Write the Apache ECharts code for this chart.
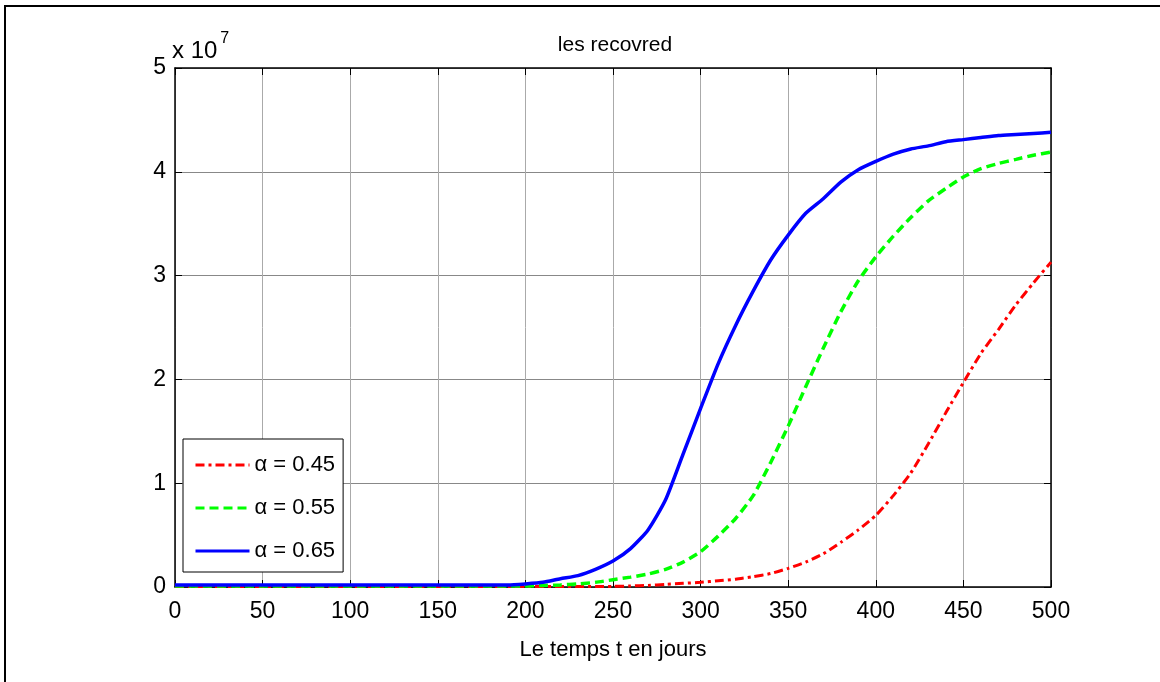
<!DOCTYPE html>
<html>
<head>
<meta charset="utf-8">
<script src="https://cdn.jsdelivr.net/npm/echarts@6/dist/echarts.min.js"></script>
<style>
  html, body { margin: 0; padding: 0; background: #fff; }
  #chart { width: 1160px; height: 682px; }
</style>
</head>
<body>
<div id="chart"></div>
<script>
// jours
const days = [0, 50, 100, 150, 190, 200, 210, 220, 230, 240, 250, 260, 270, 280, 290, 300,
  310, 320, 330, 340, 350, 360, 370, 380, 390, 400, 410, 420, 430, 440, 450, 460, 470, 480, 490, 500];

// valeurs en unites de 10^7
const alpha045 = [0.005, 0.005, 0.005, 0.005, 0.005, 0.005, 0.005, 0.005, 0.005, 0.005, 0.006, 0.01, 0.015, 0.025, 0.035, 0.045,
  0.06, 0.075, 0.1, 0.13, 0.18, 0.24, 0.32, 0.43, 0.55, 0.69, 0.88, 1.1, 1.38, 1.68, 1.97, 2.25, 2.48, 2.72, 2.93, 3.13];
const alpha055 = [0.01, 0.01, 0.01, 0.01, 0.01, 0.01, 0.015, 0.02, 0.03, 0.045, 0.07, 0.095, 0.125, 0.17, 0.24, 0.34,
  0.49, 0.66, 0.88, 1.2, 1.55, 1.93, 2.3, 2.65, 2.95, 3.18, 3.38, 3.56, 3.72, 3.84, 3.95, 4.03, 4.08, 4.12, 4.16, 4.19];
const alpha065 = [0.02, 0.02, 0.02, 0.02, 0.02, 0.03, 0.045, 0.08, 0.11, 0.17, 0.25, 0.37, 0.55, 0.84, 1.28, 1.72,
  2.15, 2.52, 2.85, 3.15, 3.39, 3.6, 3.74, 3.9, 4.02, 4.1, 4.17, 4.22, 4.25, 4.29, 4.31, 4.33, 4.35, 4.36, 4.37, 4.38];

const seriesNames = ['α = 0.45', 'α = 0.55', 'α = 0.65'];

const font = '"Liberation Sans", Arial, sans-serif';

function pairs(vals) {
  return days.map((d, i) => [d, vals[i]]);
}

const chart = echarts.init(document.getElementById('chart'));

const option = {
  backgroundColor: '#fff',
  animation: false,
  title: {
    text: 'les recovred',
    left: 610,
    top: 30,
    textAlign: 'center',
    textStyle: { fontFamily: font, fontSize: 21, fontWeight: 'normal', color: '#000' }
  },
  legend: {
    orient: 'vertical',
    left: 183,
    top: 439,
    padding: [15, 8, 10, 11],
    itemGap: 21,
    itemWidth: 54,
    itemHeight: 23,
    backgroundColor: '#fff',
    borderColor: '#000',
    borderWidth: 1,
    itemStyle: { opacity: 0 },
    lineStyle: { width: 3 },
    textStyle: { fontFamily: font, fontSize: 22, color: '#000' },
    data: seriesNames
  },
  grid: { left: 175, right: 109, top: 68, bottom: 95, show: false },
  xAxis: [{
    type: 'value',
    min: 0, max: 500, interval: 50,
    name: 'Le temps t en jours',
    nameLocation: 'middle',
    nameGap: 52,
    nameTextStyle: { fontFamily: font, fontSize: 22, color: '#000' },
    axisLine: { lineStyle: { color: '#000', width: 1.5 } },
    axisTick: { inside: true, length: 7, lineStyle: { color: '#000' } },
    axisLabel: { fontFamily: font, fontSize: 23, color: '#000', margin: 13 },
    splitLine: { show: true, lineStyle: { color: '#aaa', width: 1 } }
  }, {
    type: 'value',
    position: 'top',
    min: 0, max: 500, interval: 50,
    axisLine: { show: true, onZero: false, lineStyle: { color: '#000', width: 1.5 } },
    axisTick: { inside: true, length: 7, lineStyle: { color: '#000' } },
    axisLabel: { show: false },
    splitLine: { show: false }
  }],
  yAxis: [{
    type: 'value',
    min: 0, max: 5, interval: 1,
    axisLine: { show: true, lineStyle: { color: '#000', width: 1.5 } },
    axisTick: { show: true, inside: true, length: 7, lineStyle: { color: '#000' } },
    axisLabel: { fontFamily: font, fontSize: 23, color: '#000', margin: 9 },
    splitLine: { show: true, lineStyle: { color: '#888', width: 1 } }
  }, {
    type: 'value',
    position: 'right',
    min: 0, max: 5, interval: 1,
    axisLine: { show: true, onZero: false, lineStyle: { color: '#000', width: 1.5 } },
    axisTick: { show: true, inside: true, length: 7, lineStyle: { color: '#000' } },
    axisLabel: { show: false },
    splitLine: { show: false }
  }],
  graphic: [
    {
      type: 'text',
      left: 172,
      top: 31,
      style: {
        text: '{b|x 10}{s|7}',
        rich: {
          b: { fontFamily: font, fontSize: 24, fill: '#000', verticalAlign: 'bottom' },
          s: { fontFamily: font, fontSize: 16, fill: '#000', verticalAlign: 'top', padding: [0, 0, 16, 3] }
        }
      }
    },
    {
      type: 'polyline',
      shape: { points: [[5, 682], [5, 6], [1160, 6]] },
      style: { stroke: '#000', lineWidth: 2, fill: null }
    }
  ],
  series: [
    {
      name: seriesNames[0],
      type: 'line',
      data: pairs(alpha045),
      smooth: 0.2,
      showSymbol: false,
      symbol: 'none',
      z: 3,
      itemStyle: { color: '#ff0000' },
      lineStyle: { color: '#ff0000', width: 3, type: [9, 4, 3, 4] }
    },
    {
      name: seriesNames[1],
      type: 'line',
      data: pairs(alpha055),
      smooth: 0.2,
      showSymbol: false,
      symbol: 'none',
      z: 4,
      itemStyle: { color: '#00ff00' },
      lineStyle: { color: '#00ff00', width: 3.5, type: [9, 5] }
    },
    {
      name: seriesNames[2],
      type: 'line',
      data: pairs(alpha065),
      smooth: 0.2,
      showSymbol: false,
      symbol: 'none',
      z: 5,
      itemStyle: { color: '#0000ff' },
      lineStyle: { color: '#0000ff', width: 3.5 }
    }
  ]
};

chart.setOption(option);
</script>
</body>
</html>
